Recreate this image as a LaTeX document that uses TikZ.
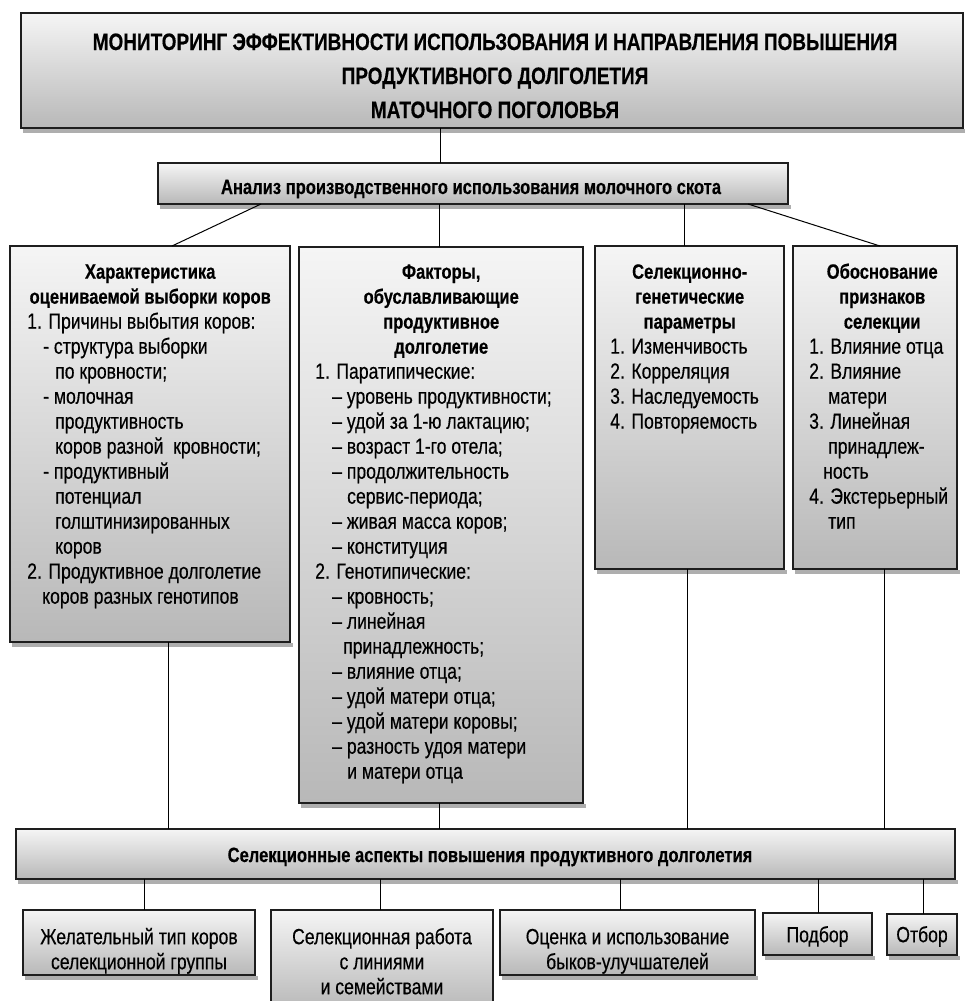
\documentclass[tikz,border=0pt]{standalone}
\usepackage{fontspec}
\setmainfont{Liberation Sans}[FakeStretch=0.8, UprightFeatures={FakeBold=0.4}, BoldFeatures={FakeBold=0.4}]
\usetikzlibrary{calc}
\definecolor{gtop}{HTML}{F5F5F5}
\definecolor{gbot}{HTML}{B8B8B8}
\definecolor{bline}{HTML}{1E1E1E}
\definecolor{shd}{HTML}{AEAEAE}
\newcommand\hdrline[2]{\makebox[#1pt][c]{\bfseries\fontsize{20.7}{25}\selectfont #2}}
\newcommand\shadowof[1]{\fill[shd] ($(#1.south west)+(2,0.8)$) rectangle ($(#1.south east)+(3,4.5)$);}
\tikzset{
  gbox/.style={draw=bline, line width=1.6pt, top color=gtop, bottom color=gbot, inner sep=0pt, outer sep=0pt, anchor=north west},
  conn/.style={line width=1pt, draw=black},
  body/.style={inner sep=0pt, anchor=north west, align=left, font=\fontsize{22}{25}\selectfont},
  boldtxt/.style={inner sep=0pt, anchor=base, font=\bfseries\fontsize{20.7}{25}\selectfont},
  plain/.style={inner sep=0pt, anchor=north, align=center, font=\fontsize{22}{25}\selectfont},
  ttl/.style={inner sep=0pt, anchor=north, align=center, font=\bfseries\fontsize{23.7}{34}\selectfont},
}
\begin{document}
\begin{tikzpicture}[x=1pt,y=-1pt]
\useasboundingbox (0,0) rectangle (964,1001);
\fill[white] (0,0) rectangle (964,1001);

% boxes
\node[gbox, minimum width=942, minimum height=115] (title) at (21,13) {};
\node[gbox, minimum width=630, minimum height=41] (an) at (158,163) {};
\node[gbox, minimum width=280, minimum height=396] (A) at (10,246) {};
\node[gbox, minimum width=284, minimum height=556] (B) at (299,247) {};
\node[gbox, minimum width=189, minimum height=323] (C) at (595,246) {};
\node[gbox, minimum width=164, minimum height=323] (D) at (793,246) {};
\node[gbox, minimum width=939, minimum height=50] (E) at (16,829) {};
\node[gbox, minimum width=232, minimum height=65] (F) at (23,910) {};
\node[gbox, minimum width=222, minimum height=100] (G) at (271,910) {};
\node[gbox, minimum width=255, minimum height=65] (H) at (500,910) {};
\node[gbox, minimum width=109, minimum height=42] (I) at (763,913) {};
\node[gbox, minimum width=70, minimum height=41] (J) at (887,914) {};

\foreach \b in {title,an,A,B,C,D,E,F,G,H,I,J} {\shadowof{\b}}

% connector x positions
\coordinate (xT) at (440,0);
\coordinate (xAa) at (261,0);
\coordinate (xAb) at (172,0);
\coordinate (xB) at (439,0);
\coordinate (xC) at (684,0);
\coordinate (xDa) at (748,0);
\coordinate (xDb) at (880,0);
\coordinate (xAE) at (168,0);
\coordinate (xBE) at (439,0);
\coordinate (xCE) at (687,0);
\coordinate (xDE) at (884,0);
\coordinate (xF) at (144,0);
\coordinate (xG) at (380,0);
\coordinate (xH) at (620,0);
\coordinate (xI) at (818,0);
\coordinate (xJ) at (923,0);

\draw[conn] (xT |- title.south) -- (xT |- an.north);
\draw[conn] (xAa |- an.south) -- (xAb |- A.north);
\draw[conn] (xB |- an.south) -- (xB |- B.north);
\draw[conn] (xC |- an.south) -- (xC |- C.north);
\draw[conn] (xDa |- an.south) -- (xDb |- D.north);
\draw[conn] (xAE |- A.south) -- (xAE |- E.north);
\draw[conn] (xBE |- B.south) -- (xBE |- E.north);
\draw[conn] (xCE |- C.south) -- (xCE |- E.north);
\draw[conn] (xDE |- D.south) -- (xDE |- E.north);
\draw[conn] (xF |- E.south) -- (xF |- F.north);
\draw[conn] (xG |- E.south) -- (xG |- G.north);
\draw[conn] (xH |- E.south) -- (xH |- H.north);
\draw[conn] (xI |- E.south) -- (xI |- I.north);
\draw[conn] (xJ |- E.south) -- (xJ |- J.north);

% texts
\node[ttl] (titletext) at (495,26) {\strut МОНИТОРИНГ ЭФФЕКТИВНОСТИ ИСПОЛЬЗОВАНИЯ И НАПРАВЛЕНИЯ ПОВЫШЕНИЯ\\ПРОДУКТИВНОГО ДОЛГОЛЕТИЯ\\МАТОЧНОГО ПОГОЛОВЬЯ};
\node[boldtxt] (antext) at (471,194) {Анализ производственного использования молочного скота};

\node[body] (Atext) at (27,261) {\strut\hdrline{246}{Характеристика}\\
\hdrline{246}{оцениваемой выборки коров}\\
1. Причины выбытия коров:\\
\hspace*{16pt}- структура выборки\\
\hspace*{28pt}по кровности;\\
\hspace*{16pt}- молочная\\
\hspace*{28pt}продуктивность\\
\hspace*{28pt}коров разной\ \ кровности;\\
\hspace*{16pt}- продуктивный\\
\hspace*{28pt}потенциал\\
\hspace*{28pt}голштинизированных\\
\hspace*{28pt}коров\\
2. Продуктивное долголетие\\
\hspace*{15pt}коров разных генотипов};

\node[body] (Btext) at (315,261) {\strut\hdrline{252}{Факторы,}\\
\hdrline{252}{обуславливающие}\\
\hdrline{252}{продуктивное}\\
\hdrline{252}{долголетие}\\
1. Паратипические:\\
\hspace*{17pt}– уровень продуктивности;\\
\hspace*{17pt}– удой за 1-ю лактацию;\\
\hspace*{17pt}– возраст 1-го отела;\\
\hspace*{17pt}– продолжительность\\
\hspace*{32pt}сервис-периода;\\
\hspace*{17pt}– живая масса коров;\\
\hspace*{17pt}– конституция\\
2. Генотипические:\\
\hspace*{17pt}– кровность;\\
\hspace*{17pt}– линейная\\
\hspace*{28pt}принадлежность;\\
\hspace*{17pt}– влияние отца;\\
\hspace*{17pt}– удой матери отца;\\
\hspace*{17pt}– удой матери коровы;\\
\hspace*{17pt}– разность удоя матери\\
\hspace*{32pt}и матери отца};

\node[body] (Ctext) at (610,261) {\strut\hdrline{159}{Селекционно-}\\
\hdrline{159}{генетические}\\
\hdrline{159}{параметры}\\
1. Изменчивость\\
2. Корреляция\\
3. Наследуемость\\
4. Повторяемость};

\node[body] (Dtext) at (809,261) {\strut\hdrline{146}{Обоснование}\\
\hdrline{146}{признаков}\\
\hdrline{146}{селекции}\\
1. Влияние отца\\
2. Влияние\\
\hspace*{19pt}матери\\
3. Линейная\\
\hspace*{19pt}принадлеж-\\
\hspace*{14pt}ность\\
4. Экстерьерный\\
\hspace*{19pt}тип};

\node[boldtxt] (Etext) at (490,862) {Селекционные аспекты повышения продуктивного долголетия};
\node[plain] (Ftext) at (139,926.5) {\strut Желательный тип коров\\селекционной группы};
\node[plain] (Gtext) at (382,926.5) {\strut Селекционная работа\\с линиями\\и семействами};
\node[plain] (Htext) at (627.5,926.5) {\strut Оценка и использование\\быков-улучшателей};
\node[plain] (Itext) at (817.5,924.5) {\strut Подбор};
\node[plain] (Jtext) at (922,924.5) {\strut Отбор};
\end{tikzpicture}
\end{document}
